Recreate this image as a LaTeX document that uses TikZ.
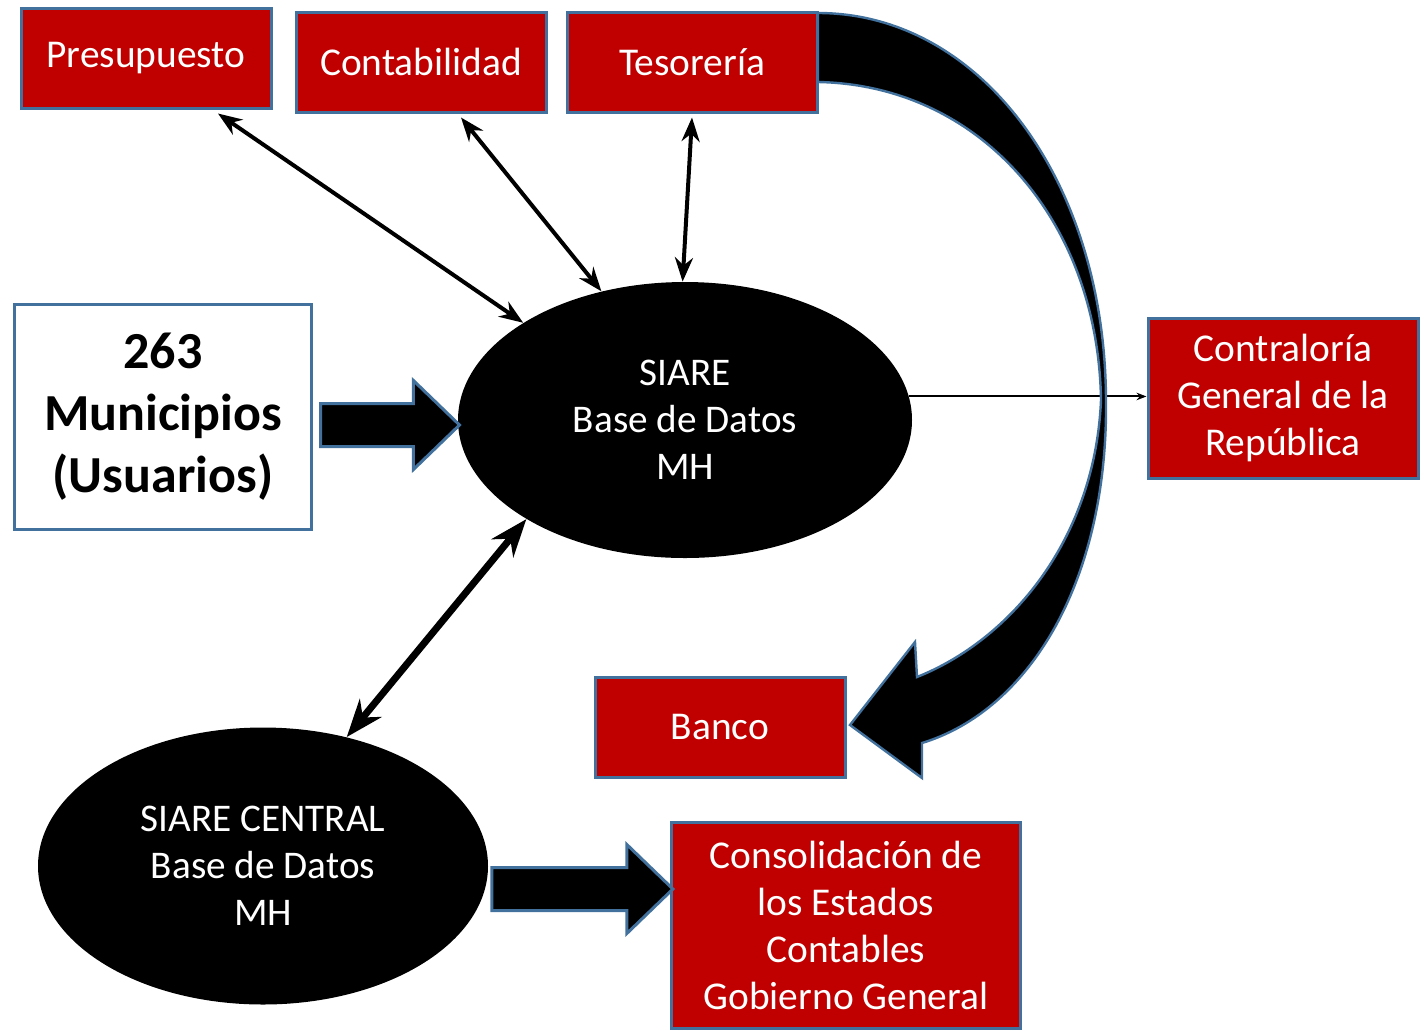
\documentclass[tikz,border=0pt]{standalone}
\usepackage{fontspec}
\setmainfont{Carlito}
\usetikzlibrary{arrows.meta,shapes.geometric,shapes.arrows}
\definecolor{boxred}{HTML}{C00000}
\definecolor{edgeblue}{HTML}{41719C}

\begin{document}
\begin{tikzpicture}[x=0.5pt,y=-0.5pt,
  redbox/.style={draw=edgeblue,line width=1.5pt,fill=boxred,text=white,align=center,
    font=\fontsize{19.7}{23.5}\selectfont,minimum width=125pt,minimum height=50pt},
  blackell/.style={ellipse,fill=black,text=white,align=center,
    font=\fontsize{19.6}{23.5}\selectfont,inner sep=0pt},
  dbl/.style={Stealth-Stealth,line width=2pt},
  bigarrow/.style={single arrow,draw=edgeblue,line width=1.5pt,fill=black,
    inner xsep=0pt,inner ysep=10pt,single arrow head extend=11.5pt,single arrow tip angle=88}]
  \useasboundingbox (0,0) rectangle (1425,1030);
  \node[redbox] (presu) at (146,58) {Presupuesto};
  \node[redbox] (contab) at (421,62) {Contabilidad};
  \node[redbox] (tes) at (692,62) {Tesorería};
  \node[draw=edgeblue,line width=1.5pt,fill=white,align=center,minimum width=148.5pt,
    minimum height=112.5pt,font=\fontsize{26}{31}\selectfont\bfseries] (muni) at (163,417)
    {263\\Municipios\\(Usuarios)};
  \node[blackell,minimum width=227pt,minimum height=138pt] (siare) at (685,420)
    {SIARE\\Base de Datos\\MH};
  \node[blackell,minimum width=225pt,minimum height=138.5pt] (central) at (263,866)
    {SIARE CENTRAL\\Base de Datos\\MH};
  \node[redbox,minimum width=135pt,minimum height=80pt] (contral) at (1283,398)
    {Contraloría\\General de la\\República};
  \node[redbox] (banco) at (720,727) {Banco};
  \node[redbox,minimum width=174.5pt,minimum height=103pt] (consol) at (846,925)
    {Consolidación de\\los Estados\\Contables\\Gobierno General};

  \draw[-{Stealth[length=5pt]},line width=1pt] (siare.6) -- (siare.6 -| contral.west);
  \draw[dbl] ([xshift=36pt,yshift=-2pt]presu.south) -- (siare.149);
  \draw[dbl] ([xshift=20pt,yshift=-2pt]contab.south) -- (siare.123);
  \draw[dbl] ([yshift=-2pt]tes.south) -- (siare.91);
  \draw[dbl,line width=3.5pt] (siare.212) -- (central.57);

  \node[bigarrow,minimum height=69.5pt,anchor=tail] at ([xshift=3pt,yshift=-4pt]muni.east) {};
  \node[bigarrow,minimum height=90.5pt,anchor=tail] at ([xshift=1pt,yshift=-11.5pt]central.east) {};

  \draw[draw=edgeblue,line width=1.2pt,fill=black]
    (818,13) .. controls (980,13) and (1105,180) .. (1106,400)
    .. controls (1108,580) and (1030,710) .. (922,743)
    -- (922,778) -- (850,725) -- (915,642) -- (917,677)
    .. controls (1010,640) and (1095,540) .. (1101,400)
    .. controls (1098,220) and (980,85) .. (818,82) -- cycle;
\end{tikzpicture}
\end{document}
